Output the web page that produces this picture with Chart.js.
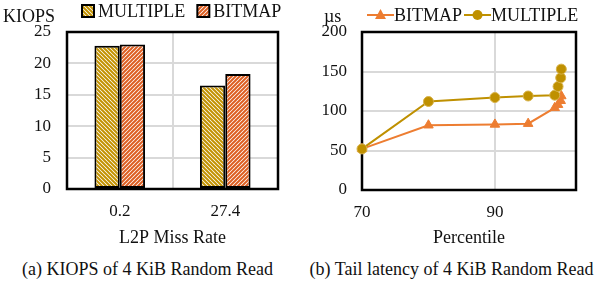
<!DOCTYPE html>
<html>
<head>
<meta charset="utf-8">
<script src="https://cdn.jsdelivr.net/npm/chart.js@4.4.1/dist/chart.umd.min.js"></script>
<style>
  html, body { margin: 0; padding: 0; background: #fff; }
  body { width: 598px; height: 284px; position: relative; overflow: hidden;
         font-family: 'Liberation Serif', 'Times New Roman', serif; color: #111; }
  .panel   { position: absolute; top: 0; width: 299px; height: 252px; }
  .unit    { position: absolute; top: 7px; font-size: 18px; line-height: 18px; }
  .caption { position: absolute; top: 260px; width: 299px; text-align: center;
             font-size: 18px; line-height: 18px; white-space: nowrap; }
</style>
</head>
<body>
<div class="panel" style="left:0"><canvas id="kiops-chart"></canvas></div>
<div class="panel" style="left:299px"><canvas id="latency-chart"></canvas></div>
<div class="unit" style="left:3px">KIOPS</div>
<div class="unit" style="left:324px">µs</div>
<div class="caption" style="left:-2px">(a) KIOPS of 4 KiB Random Read</div>
<div class="caption" style="left:302px">(b) Tail latency of 4 KiB Random Read</div>

<script>
/* ─── Data ───────────────────────────────────────────────────────────────── */
const MISS_RATES     = ['0.2', '27.4'];
const KIOPS_MULTIPLE = [22.8, 16.5];
const KIOPS_BITMAP   = [23.0, 18.3];
const KIOPS_TICKS    = [0, 5, 10, 15, 20, 25];

const PERCENTILES  = [70, 80, 90, 95, 99, 99.5, 99.9, 99.99];
const LAT_BITMAP   = [52, 82, 83, 84, 104, 108, 113, 119];
const LAT_MULTIPLE = [52, 112, 117, 119, 120, 131, 142, 153];
const PCT_TICKS    = [70, 90];
const LAT_TICKS    = [0, 50, 100, 150, 200];

/* ─── Shared look ────────────────────────────────────────────────────────── */
const SERIF  = "'Liberation Serif', 'Times New Roman', serif";
const GOLD   = '#BF9000';
const ORANGE = '#ED7D31';
const GRID   = '#d9d9d9';
Chart.defaults.font.family = SERIF;
Chart.defaults.color = '#111';

// black box round the plot area, under the marks
const frame = {
  id: 'frame',
  beforeDatasetsDraw(chart) {
    const { ctx, chartArea: a } = chart;
    ctx.save();
    ctx.strokeStyle = '#000';
    ctx.lineWidth = 2.5;
    ctx.strokeRect(a.left, a.top, a.right - a.left, a.bottom - a.top);
    ctx.restore();
  }
};

// one-row legend above the frame, Excel style (icon, text, icon, text)
const legendRow = {
  id: 'legendRow',
  afterDraw(chart, args, o) {
    const { ctx } = chart;
    ctx.save();
    ctx.font = `18px ${SERIF}`;
    ctx.textBaseline = 'middle';
    let x = o.x;
    chart.data.datasets.forEach(ds => {
      x += o.icon(ctx, ds, x, o.y) + o.gap;
      ctx.fillStyle = '#111';
      ctx.fillText(ds.label, x, o.y + 1);
      x += ctx.measureText(ds.label).width + o.spacing;
    });
    ctx.restore();
  }
};

function boxIcon(ctx, ds, x, y) {
  ctx.fillStyle = ds.backgroundColor;
  ctx.fillRect(x, y - 6, 12, 12);
  ctx.strokeStyle = '#000';
  ctx.lineWidth = 2;
  ctx.strokeRect(x, y - 6, 12, 12);
  return 13;
}

function lineIcon(ctx, ds, x, y) {
  ctx.strokeStyle = ds.borderColor;
  ctx.fillStyle = ds.pointBackgroundColor;
  ctx.lineWidth = 2;
  ctx.beginPath(); ctx.moveTo(x, y); ctx.lineTo(x + 27, y); ctx.stroke();
  ctx.beginPath();
  if (ds.pointStyle === 'triangle') {
    ctx.moveTo(x + 13.5, y - 6); ctx.lineTo(x + 19, y + 4); ctx.lineTo(x + 8, y + 4); ctx.closePath();
  } else {
    ctx.arc(x + 13.5, y, 5, 0, Math.PI * 2);
  }
  ctx.fill();
  return 27;
}

function stripes(ctx, color, slash) {
  const c = document.createElement('canvas');
  c.width = c.height = 4;
  const g = c.getContext('2d');
  g.fillStyle = '#fff';
  g.fillRect(0, 0, 4, 4);
  g.strokeStyle = color;
  g.lineWidth = 2;
  g.beginPath();
  if (slash) {
    g.moveTo(-1, 5); g.lineTo(5, -1);
    g.moveTo(-1, 1); g.lineTo(1, -1);
    g.moveTo(3, 5);  g.lineTo(5, 3);
  } else {
    g.moveTo(-1, -1); g.lineTo(5, 5);
    g.moveTo(-1, 3);  g.lineTo(1, 5);
    g.moveTo(3, -1);  g.lineTo(5, 1);
  }
  g.stroke();
  return ctx.createPattern(c, 'repeat');
}

const fixedTicks = vals => axis => { axis.ticks = vals.map(v => ({ value: v })); };

/* ─── (a) KIOPS bars ─────────────────────────────────────────────────────── */
const kiopsCanvas = document.getElementById('kiops-chart');
const kctx = kiopsCanvas.getContext('2d');

new Chart(kiopsCanvas, {
  type: 'bar',
  data: {
    labels: MISS_RATES,
    datasets: [
      { label: 'MULTIPLE', data: KIOPS_MULTIPLE, backgroundColor: stripes(kctx, '#C39200', false),
        borderColor: '#000', borderWidth: 2, borderSkipped: false },
      { label: 'BITMAP', data: KIOPS_BITMAP, backgroundColor: stripes(kctx, '#DD5F22', true),
        borderColor: '#000', borderWidth: 2, borderSkipped: false }
    ]
  },
  options: {
    responsive: true,
    maintainAspectRatio: false,
    animation: false,
    layout: { padding: { left: 0, right: 21, top: 32, bottom: 0 } },
    categoryPercentage: 0.48,
    barPercentage: 1,
    plugins: {
      tooltip: { enabled: false },
      legend: { display: false },
      legendRow: { x: 82, y: 11, gap: 3, spacing: 12, icon: boxIcon }
    },
    scales: {
      x: {
        grid: { color: GRID, lineWidth: 2, drawTicks: false, offset: true },
        border: { display: false },
        ticks: { font: { size: 17 }, padding: 12 },
        title: { display: true, text: 'L2P Miss Rate', font: { size: 18 }, padding: { top: 0, bottom: 3 } },
        afterFit: axis => { axis.height = 63; }
      },
      y: {
        min: 0, max: 25,
        grid: { color: GRID, lineWidth: 2, drawTicks: false },
        border: { display: false },
        ticks: { font: { size: 17 }, padding: 16 },
        afterBuildTicks: fixedTicks(KIOPS_TICKS),
        afterFit: axis => { axis.width = 67; }
      }
    }
  },
  plugins: [frame, legendRow]
});

/* ─── (b) Tail latency lines ─────────────────────────────────────────────── */
new Chart(document.getElementById('latency-chart'), {
  type: 'scatter',
  data: {
    datasets: [
      { label: 'BITMAP', order: 1,
        data: PERCENTILES.map((x, i) => ({ x, y: LAT_BITMAP[i] })),
        showLine: true, borderColor: ORANGE, borderWidth: 2,
        pointStyle: 'triangle', pointRadius: 5.5, pointBackgroundColor: ORANGE,
        pointBorderColor: ORANGE, pointBorderWidth: 1, clip: false },
      { label: 'MULTIPLE', order: 0,
        data: PERCENTILES.map((x, i) => ({ x, y: LAT_MULTIPLE[i] })),
        showLine: true, borderColor: GOLD, borderWidth: 2,
        pointStyle: 'circle', pointRadius: 5, pointBackgroundColor: GOLD,
        pointBorderColor: '#D7B24A', pointBorderWidth: 1, clip: false }
    ]
  },
  options: {
    responsive: true,
    maintainAspectRatio: false,
    animation: false,
    layout: { padding: { left: 0, right: 22, top: 32, bottom: 0 } },
    plugins: {
      tooltip: { enabled: false },
      legend: { display: false },
      legendRow: { x: 68, y: 15, gap: 0, spacing: 2, icon: lineIcon }
    },
    scales: {
      x: {
        type: 'linear', min: 70, max: 102.2,
        grid: { color: GRID, lineWidth: 2, drawTicks: false },
        border: { display: false },
        ticks: { font: { size: 17 }, padding: 12 },
        afterBuildTicks: fixedTicks(PCT_TICKS),
        title: { display: true, text: 'Percentile', font: { size: 18 }, padding: { top: 0, bottom: 3 } },
        afterFit: axis => { axis.height = 62; }
      },
      y: {
        min: 0, max: 200,
        grid: { color: GRID, lineWidth: 2, drawTicks: false },
        border: { display: false },
        ticks: { font: { size: 17 }, padding: 15 },
        afterBuildTicks: fixedTicks(LAT_TICKS),
        afterFit: axis => { axis.width = 63; }
      }
    }
  },
  plugins: [frame, legendRow]
});
</script>
</body>
</html>
